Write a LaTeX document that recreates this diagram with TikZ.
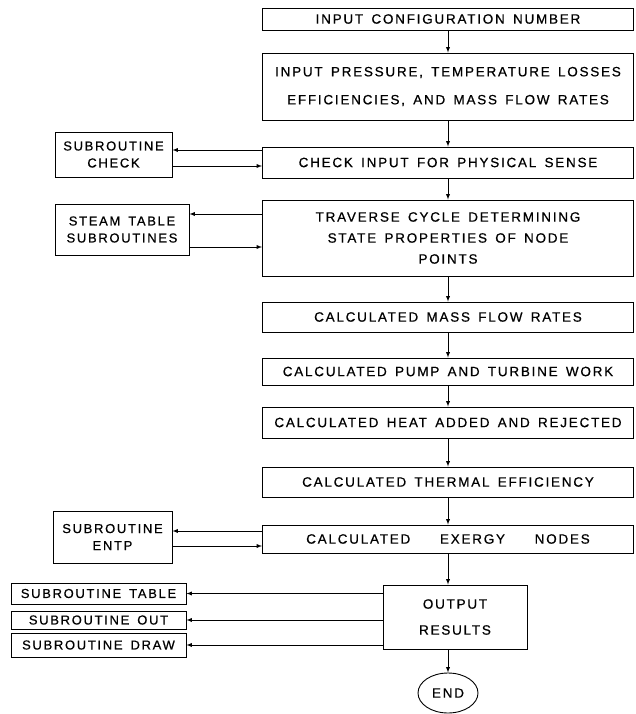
\documentclass[tikz,border=0pt]{standalone}
\usepackage{fontspec}
\usepackage{tikz}
\usetikzlibrary{arrows,shapes.geometric}
\newfontfamily\lettering[LetterSpace=13,WordSpace=1.5,FakeBold=0.6]{Liberation Sans}

\begin{document}
\begin{tikzpicture}[x=1pt,y=-1pt,>=latex,line width=0.9pt,
        box/.style={draw,rectangle,inner sep=0pt,align=center,font=\lettering\fontsize{13.5}{21}\selectfont},
        mainbox/.style={box,minimum width=371pt},
        subbox/.style={box,font=\lettering\fontsize{13}{17}\selectfont}]
        \useasboundingbox (0,0) rectangle (635,714);
        \node[mainbox,minimum height=22pt](cfg)at(448,19){INPUT CONFIGURATION NUMBER};
        \node[mainbox,minimum height=67pt](inp)at(448,86.5){INPUT PRESSURE, TEMPERATURE LOSSES\\[7pt]EFFICIENCIES, AND MASS FLOW RATES};
        \node[mainbox,minimum height=31pt](chk)at(448,162.5){CHECK INPUT FOR PHYSICAL SENSE};
        \node[mainbox,minimum height=76pt](trv)at(448,238){TRAVERSE CYCLE DETERMINING\\STATE PROPERTIES OF NODE\\POINTS};
        \node[mainbox,minimum height=30pt](mfr)at(448,317){CALCULATED MASS FLOW RATES};
        \node[mainbox,minimum height=27pt](wrk)at(448,371.5){CALCULATED PUMP AND TURBINE WORK};
        \node[mainbox,minimum height=31pt](hea)at(448,422.5){CALCULATED HEAT ADDED AND REJECTED};
        \node[mainbox,minimum height=30pt](eff)at(448,482){CALCULATED THERMAL EFFICIENCY};
        \node[mainbox,minimum height=28pt](exg)at(448,539){CALCULATED\hspace{2.2em}EXERGY\hspace{2.2em}NODES};
        \node[box,minimum width=144pt,minimum height=64pt](out)at(455,617){OUTPUT\\[5pt]RESULTS};
        \node[draw,ellipse,minimum width=60pt,minimum height=40pt,inner sep=0pt,font=\lettering\fontsize{13.5}{15}\selectfont](fin)at(448,693){END};
        \node[subbox,minimum width=117pt,minimum height=45pt](sck)at(113.5,154.5){SUBROUTINE\\CHECK};
        \node[subbox,minimum width=134pt,minimum height=51pt](sst)at(122,229.5){STEAM TABLE\\SUBROUTINES};
        \node[subbox,minimum width=119pt,minimum height=52pt](sen)at(112.5,537){SUBROUTINE\\ENTP};
        \node[subbox,minimum width=175pt,minimum height=21pt](stb)at(98.5,593.5){SUBROUTINE TABLE};
        \node[subbox,minimum width=175pt,minimum height=18pt](sou)at(98.5,620){SUBROUTINE OUT};
        \node[subbox,minimum width=175pt,minimum height=24pt](sdr)at(98.5,645){SUBROUTINE DRAW};
        \draw[->](cfg)--(inp);
        \draw[->](inp)--(chk);
        \draw[->](chk)--(trv);
        \draw[->](trv)--(mfr);
        \draw[->](mfr)--(wrk);
        \draw[->](wrk)--(hea);
        \draw[->](hea)--(eff);
        \draw[->](eff)--(exg);
        \draw[->](exg.south)--(exg.south|-out.north);
        \draw[->](out.south-|fin.north)--(fin.north);
        \draw[->]([yshift=12.5pt]chk.west)--([yshift=12.5pt]chk.west-|sck.east);
        \draw[->]([yshift=-3.5pt]chk.west-|sck.east)--([yshift=-3.5pt]chk.west);
        \draw[->]([yshift=24pt]trv.west)--([yshift=24pt]trv.west-|sst.east);
        \draw[->]([yshift=-9pt]trv.west-|sst.east)--([yshift=-9pt]trv.west);
        \draw[->]([yshift=8pt]exg.west)--([yshift=8pt]exg.west-|sen.east);
        \draw[->]([yshift=-7pt]exg.west-|sen.east)--([yshift=-7pt]exg.west);
        \draw[->](out.west|-stb.east)--(stb.east);
        \draw[->](out.west|-sou.east)--(sou.east);
        \draw[->](out.west|-sdr.east)--(sdr.east);
    \end{tikzpicture}
\end{document}
